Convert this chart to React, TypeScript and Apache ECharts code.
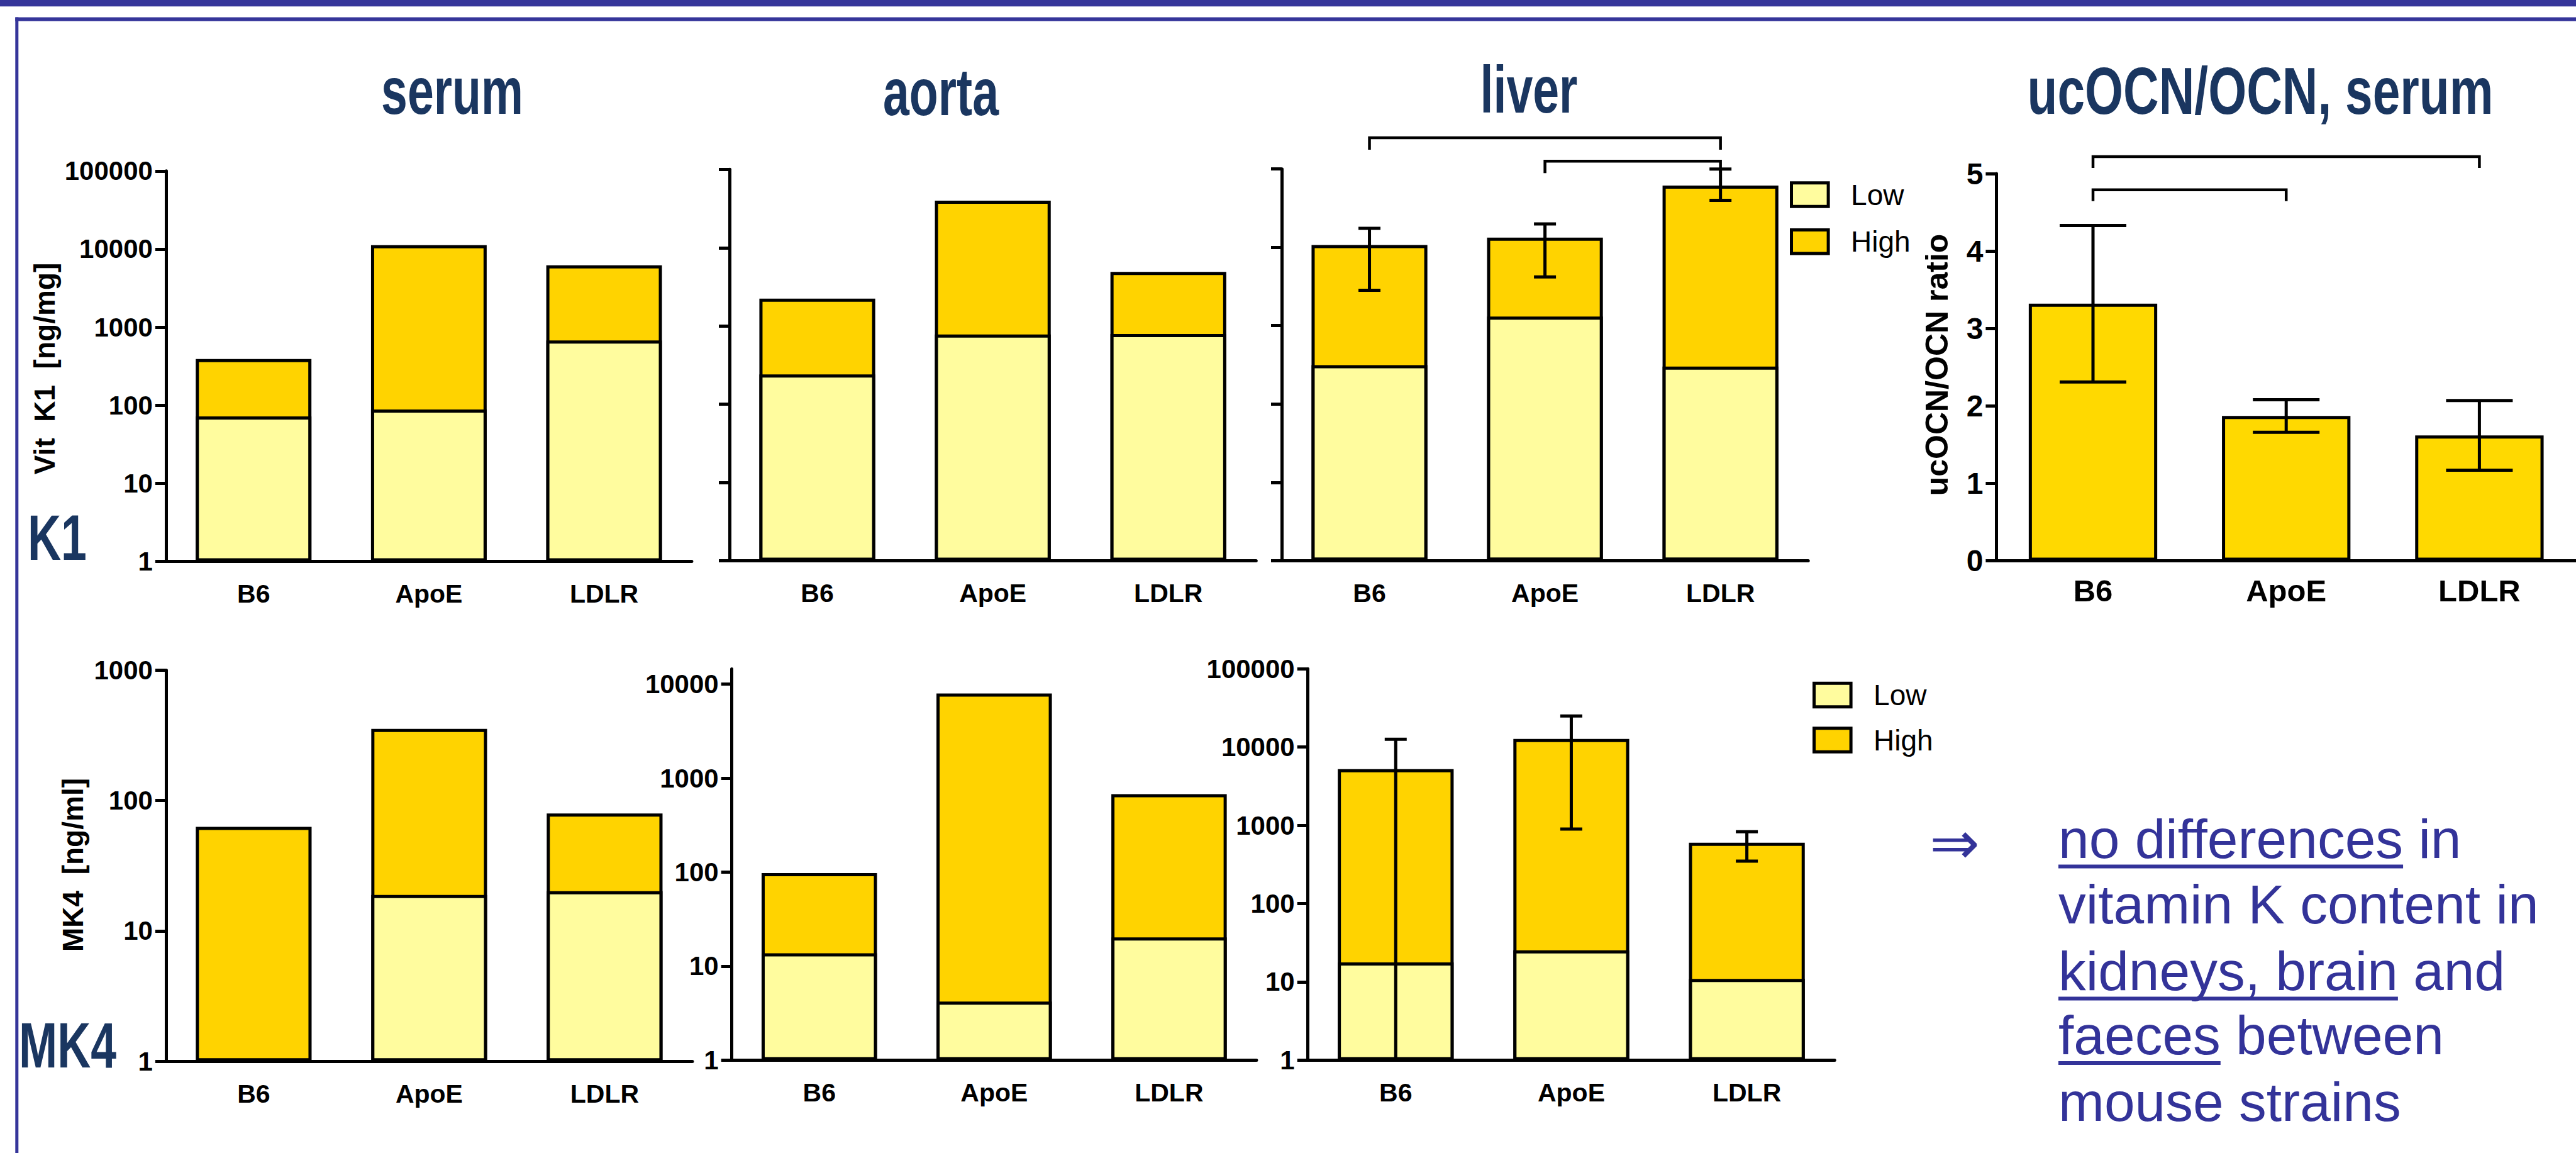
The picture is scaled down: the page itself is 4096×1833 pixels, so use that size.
import React, { useEffect, useRef } from 'react';
import * as echarts from 'echarts';

// ---------------- data ----------------
const categories = ['B6', 'ApoE', 'LDLR'];

// Vit K1 [ng/mg]  (Low part and Low+High total of the stacked bars)
const k1SerumLow = [72, 88, 676];
const k1SerumTotal = [390, 11200, 6200];
const k1AortaLow = [240, 780, 790];
const k1AortaTotal = [2240, 39800, 4910];
const k1LiverLow = [313, 1310, 300];
const k1LiverTotal = [10700, 13300, 61600];
const k1LiverErrLow = [2830, 4200, 39800];
const k1LiverErrHigh = [17500, 19900, 100000];

// ucOCN/OCN ratio, serum
const ocnRatio = [3.32, 1.87, 1.62];
const ocnSem = [1.01, 0.21, 0.45];

// MK4 [ng/ml]
const mk4SerumLow = [null, 18.9, 20.2];
const mk4SerumTotal = [62.9, 355, 79.6];
const mk4AortaLow = [13.7, 4.2, 20.2];
const mk4AortaTotal = [98, 7960, 677];
const mk4LiverLow = [17.7, 25.3, 10.9];
const mk4LiverTotal = [5230, 12700, 600];
const mk4LiverErrLow = [1, 895, 349];
const mk4LiverErrHigh = [12600, 24900, 830];

// significance brackets: [fromCategory, toCategory, level]
const k1LiverBrackets = [[0, 2, 251000], [1, 2, 126000]];
const ocnBrackets = [[0, 2, 5.22], [0, 1, 4.79]];

// tick values
const mk4AortaTicks = [1, 10, 100, 1000, 10000];

const legendNames = ['Low', 'High'];
const titles = ['serum', 'aorta', 'liver', 'ucOCN/OCN, serum'];
const conclusionLines = [
  'no differences in',
  'vitamin K content in',
  'kidneys, brain and',
  'faeces between',
  'mouse strains',
];
const underlined = ['no differences', '', 'kidneys, brain', 'faeces', ''];

// ---------------- styles ----------------
const FONT = "'Liberation Sans', Arial, Helvetica, sans-serif";
const LOW = '#FFFC9E';
const HIGH = '#FFD300';
const OCN = '#FFD900';
const NAVY = '#1A3660';
const BLUE = '#333399';
const FRAME = '#35359A';
const LW = 5;

const grids = [
  { left: 263.9, top: 271.8, width: 836, height: 620.7 },
  { left: 1160, top: 269.3, width: 837.3, height: 622.3 },
  { left: 2038, top: 268.7, width: 837.2, height: 622.6 },
  { left: 3174.4, top: 276, width: 924.6, height: 615.6 },
  { left: 263.9, top: 1065.5, width: 837, height: 621.7 },
  { left: 1163.7, top: 1063.4, width: 834.2, height: 622 },
  { left: 2079.7, top: 1063.2, width: 837.5, height: 622.2 },
];

function xAxis(gi: number, fontSize = 41, margin = 31) {
  return {
    type: 'category',
    gridIndex: gi,
    data: categories,
    boundaryGap: true,
    axisLine: { onZero: false, lineStyle: { color: '#000', width: LW } },
    axisTick: { alignWithLabel: true, length: 17, lineStyle: { color: '#000', width: LW } },
    axisLabel: { color: '#000', fontSize, fontWeight: 'bold', fontFamily: FONT, margin },
    splitLine: { show: false },
  };
}

function logY(gi: number, max: number, showLabels: boolean, ticks?: number[]) {
  const ax: any = {
    type: 'log',
    logBase: 10,
    gridIndex: gi,
    min: 1,
    max,
    axisLine: { show: true, lineStyle: { color: '#000', width: LW } },
    axisTick: { show: true, length: 17, lineStyle: { color: '#000', width: LW } },
    axisLabel: {
      show: showLabels,
      color: '#000',
      fontSize: 42,
      fontWeight: 'bold',
      fontFamily: FONT,
      margin: 21,
      formatter: (v: number) => String(Math.round(v)),
    },
    splitLine: { show: false },
    minorTick: { show: false },
  };
  if (ticks) {
    ax.axisTick.customValues = ticks;
    ax.axisLabel.customValues = ticks;
  }
  return ax;
}

function stackedBars(gi: number, low: (number | null)[], total: number[]) {
  return [
    {
      type: 'bar', name: 'High', xAxisIndex: gi, yAxisIndex: gi, data: total,
      barWidth: '66%', barGap: '-100%', z: 2,
      itemStyle: { color: HIGH, borderColor: '#000', borderWidth: LW },
    },
    {
      type: 'bar', name: 'Low', xAxisIndex: gi, yAxisIndex: gi, data: low,
      barWidth: '66%', barGap: '-100%', z: 2,
      itemStyle: { color: LOW, borderColor: '#000', borderWidth: LW },
    },
  ];
}

function errorBars(gi: number, lows: number[], highs: number[], capHalf: number) {
  return {
    type: 'custom', xAxisIndex: gi, yAxisIndex: gi, z: 5, silent: true,
    data: categories.map((_, i) => [i, lows[i], highs[i]]),
    encode: { x: 0, y: [1, 2] },
    renderItem: (_p: any, api: any) => {
      const x = api.value(0);
      const lo = api.coord([x, api.value(1)]);
      const hi = api.coord([x, api.value(2)]);
      const style = { stroke: '#000', lineWidth: LW, fill: null };
      return {
        type: 'group',
        children: [
          { type: 'line', shape: { x1: lo[0], y1: lo[1], x2: hi[0], y2: hi[1] }, style },
          { type: 'line', shape: { x1: hi[0] - capHalf, y1: hi[1], x2: hi[0] + capHalf, y2: hi[1] }, style },
          { type: 'line', shape: { x1: lo[0] - capHalf, y1: lo[1], x2: lo[0] + capHalf, y2: lo[1] }, style },
        ],
      };
    },
  };
}

function brackets(gi: number, list: number[][], drop: number) {
  return {
    type: 'custom', xAxisIndex: gi, yAxisIndex: gi, z: 5, silent: true, clip: false,
    data: list,
    encode: { x: [0, 1], y: 2 },
    renderItem: (_p: any, api: any) => {
      const a = api.coord([api.value(0), api.value(2)]);
      const b = api.coord([api.value(1), api.value(2)]);
      return {
        type: 'polyline',
        shape: { points: [[a[0], a[1] + drop], [a[0], a[1]], [b[0], b[1]], [b[0], b[1] + drop]] },
        style: { stroke: '#000', lineWidth: 4.5, fill: null },
      };
    },
  };
}

function measure(text: string, font: string) {
  const ctx = document.createElement('canvas').getContext('2d') as CanvasRenderingContext2D;
  ctx.font = font;
  return ctx.measureText(text).width;
}

function buildOption() {
  const titlePos = [
    { x: 719, base: 180.5, sx: 0.71 },
    { x: 1496, base: 183, sx: 0.71 },
    { x: 2431, base: 179, sx: 0.71 },
    { x: 3594, base: 181.5, sx: 0.74 },
  ];
  const TS = 106;
  const graphics: any[] = [
    { type: 'rect', shape: { x: 0, y: 0, width: 4096, height: 10.3 }, style: { fill: FRAME } },
    { type: 'rect', shape: { x: 24.3, y: 27.4, width: 4096, height: 6 }, style: { fill: FRAME } },
    { type: 'rect', shape: { x: 24.3, y: 27.4, width: 5, height: 1833 }, style: { fill: FRAME } },
  ];
  titles.forEach((t, i) => {
    const p = titlePos[i];
    graphics.push({
      type: 'text', x: p.x, y: p.base - 0.347 * TS, scaleX: p.sx,
      style: { text: t, font: `bold ${TS}px ${FONT}`, fill: NAVY, textAlign: 'center', textVerticalAlign: 'middle' },
    });
  });
  graphics.push(
    {
      type: 'text', x: 44, y: 890 - 0.347 * 102, scaleX: 0.72,
      style: { text: 'K1', font: `bold 102px ${FONT}`, fill: NAVY, textAlign: 'left', textVerticalAlign: 'middle' },
    },
    {
      type: 'text', x: 30, y: 1697 - 0.347 * 102, scaleX: 0.72,
      style: { text: 'MK4', font: `bold 102px ${FONT}`, fill: NAVY, textAlign: 'left', textVerticalAlign: 'middle' },
    },
    {
      type: 'text', x: 70.5, y: 586, rotation: Math.PI / 2,
      style: { text: 'Vit  K1  [ng/mg]', font: `bold 46px ${FONT}`, fill: '#000', textAlign: 'center', textVerticalAlign: 'middle' },
    },
    {
      type: 'text', x: 116, y: 1375, rotation: Math.PI / 2,
      style: { text: 'MK4  [ng/ml]', font: `bold 46px ${FONT}`, fill: '#000', textAlign: 'center', textVerticalAlign: 'middle' },
    },
    {
      type: 'text', x: 3080, y: 580, rotation: Math.PI / 2,
      style: { text: 'ucOCN/OCN ratio', font: `bold 50px ${FONT}`, fill: '#000', textAlign: 'center', textVerticalAlign: 'middle' },
    },
    {
      type: 'text', x: 3108, y: 1340,
      style: { text: '\u21D2', font: `95px 'DejaVu Sans', ${FONT}`, fill: BLUE, textAlign: 'center', textVerticalAlign: 'middle' },
    }
  );
  const BS = 87.5;
  const bodyFont = `${BS}px ${FONT}`;
  const baselines = [1364, 1468.5, 1574, 1676.5, 1782];
  const tx = 3273;
  conclusionLines.forEach((line, i) => {
    graphics.push({
      type: 'text', x: tx, y: baselines[i] - 0.347 * BS,
      style: { text: line, font: bodyFont, fill: BLUE, textAlign: 'left', textVerticalAlign: 'middle' },
    });
    if (underlined[i]) {
      const w = measure(underlined[i], bodyFont);
      graphics.push({
        type: 'rect', shape: { x: tx, y: baselines[i] + 10.5, width: w, height: 6 }, style: { fill: BLUE },
      });
    }
  });

  const legendBase = {
    data: legendNames,
    orient: 'vertical',
    icon: 'rect',
    padding: 0,
    itemWidth: 58.6,
    itemHeight: 37.5,
    itemStyle: { borderWidth: LW, borderColor: '#000' },
    textStyle: { fontSize: 46, color: '#000', fontFamily: FONT, padding: [0, 0, 0, 31] },
    selectedMode: false,
  };

  return {
    animation: false,
    backgroundColor: '#ffffff',
    grid: grids.map((g) => ({ ...g, containLabel: false })),
    legend: [
      { ...legendBase, left: 2846, top: 286.5, itemGap: 28.8 },
      { ...legendBase, left: 2882, top: 1082, itemGap: 25.5 },
    ],
    xAxis: [
      xAxis(0), xAxis(1), xAxis(2), xAxis(3, 49, 23), xAxis(4), xAxis(5), xAxis(6),
    ],
    yAxis: [
      logY(0, 100000, true),
      logY(1, 100000, false),
      logY(2, 100000, false),
      {
        type: 'value', gridIndex: 3, min: 0, max: 5, interval: 1,
        axisLine: { show: true, lineStyle: { color: '#000', width: LW } },
        axisTick: { show: true, length: 17, lineStyle: { color: '#000', width: LW } },
        axisLabel: { color: '#000', fontSize: 48, fontWeight: 'bold', fontFamily: FONT, margin: 21 },
        splitLine: { show: false },
      },
      logY(4, 1000, true),
      logY(5, 14550, true, mk4AortaTicks),
      logY(6, 100000, true),
    ],
    series: [
      ...stackedBars(0, k1SerumLow, k1SerumTotal),
      ...stackedBars(1, k1AortaLow, k1AortaTotal),
      ...stackedBars(2, k1LiverLow, k1LiverTotal),
      errorBars(2, k1LiverErrLow, k1LiverErrHigh, 17.5),
      brackets(2, k1LiverBrackets, 19),
      {
        type: 'bar', name: 'ucOCN/OCN', xAxisIndex: 3, yAxisIndex: 3, data: ocnRatio,
        barWidth: '66.5%', z: 2,
        itemStyle: { color: OCN, borderColor: '#000', borderWidth: LW },
      },
      errorBars(3, ocnRatio.map((v, i) => v - ocnSem[i]), ocnRatio.map((v, i) => v + ocnSem[i]), 53),
      brackets(3, ocnBrackets, 18),
      ...stackedBars(4, mk4SerumLow, mk4SerumTotal),
      ...stackedBars(5, mk4AortaLow, mk4AortaTotal),
      ...stackedBars(6, mk4LiverLow, mk4LiverTotal),
      errorBars(6, mk4LiverErrLow, mk4LiverErrHigh, 17.5),
    ],
    graphic: { elements: graphics },
  };
}

export default function App() {
  const ref = useRef<HTMLDivElement>(null);
  useEffect(() => {
    if (!ref.current) return;
    const chart = echarts.init(ref.current, null, { renderer: 'svg' });
    chart.setOption(buildOption() as any);
    return () => chart.dispose();
  }, []);
  return (
    <div
      ref={ref}
      style={{ position: 'fixed', left: 0, top: 0, width: 4096, height: 1833, background: '#fff' }}
    />
  );
}
